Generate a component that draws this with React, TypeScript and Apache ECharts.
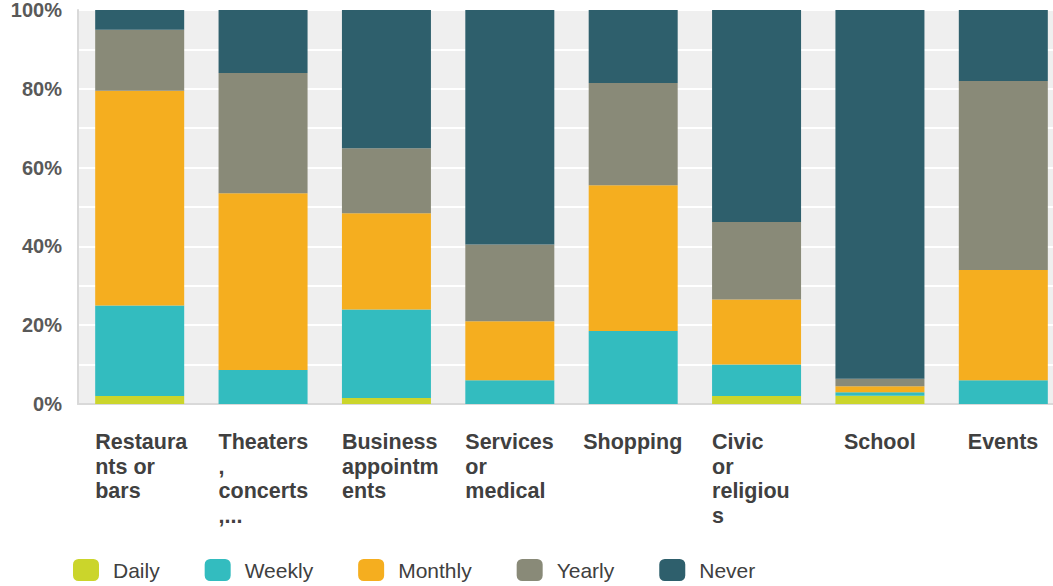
import React, { useEffect, useRef } from "react";
import * as echarts from "echarts";

const categories = [
  "Restaura\nnts or\nbars",
  "Theaters\n,\nconcerts\n,...",
  "Business\nappointm\nents",
  "Services\nor\nmedical",
  "Shopping",
  "Civic\nor\nreligiou\ns",
  "School",
  "Events",
];
const seriesNames = ["Daily", "Weekly", "Monthly", "Yearly", "Never"];
const daily = [2, 0, 1.5, 0, 0, 2, 2.1, 0];
const weekly = [23, 8.6, 22.5, 6, 18.5, 8, 0.9, 6];
const monthly = [54.5, 44.9, 24.4, 15, 37, 16.5, 1.5, 28];
const yearly = [15.5, 30.5, 16.5, 19.5, 26, 19.7, 1.9, 48];
const never = [5, 16, 35.1, 59.5, 18.5, 53.8, 93.6, 18];
const colors = ["#cbd52b", "#33bcbf", "#f5ae1f", "#898a78", "#2e5f6c"];
const yTicks = [0, 20, 40, 60, 80, 100];

export default function App() {
  const ref = useRef<HTMLDivElement>(null);
  useEffect(() => {
    if (!ref.current) return;
    const chart = echarts.init(ref.current, undefined, { renderer: "svg" });
    const values = [daily, weekly, monthly, yearly, never];
    const font = "'Liberation Sans', Arial, sans-serif";
    const labelFont = { fontFamily: font, fontSize: 21.5, fontWeight: "bold", lineHeight: 24.5, color: "#404040" };
    const canvas = document.createElement("canvas");
    const ctx = canvas.getContext("2d");
    const rich: Record<string, any> = {};
    categories.forEach((c, i) => {
      const lines = c.split("\n");
      let w = 89;
      if (lines.length === 1 && ctx) {
        ctx.font = "bold 21.5px 'Liberation Sans', Arial, sans-serif";
        w = Math.ceil(ctx.measureText(lines[0]).width);
      }
      rich["c" + i] = { ...labelFont, width: w, align: "left" };
    });
    chart.setOption({
      animation: false,
      color: colors,
      grid: {
        left: 78,
        right: 5,
        top: 8,
        bottom: 182,
        show: true,
        backgroundColor: "#efefef",
        borderWidth: 0,
      },
      legend: {
        left: 73,
        top: 559,
        padding: 0,
        itemWidth: 26,
        itemHeight: 22,
        itemGap: 45,
        icon: "roundRect",
        data: seriesNames,
        textStyle: {
          fontFamily: font,
          fontSize: 21,
          color: "#404040",
          padding: [0, 0, 0, 9],
        },
      },
      xAxis: {
        type: "category",
        data: categories,
        axisLine: { show: true, lineStyle: { color: "#d9d9d9", width: 2 } },
        axisTick: { show: false },
        splitLine: { show: false },
        axisLabel: {
          interval: 0,
          align: "center",
          margin: 26,
          ...labelFont,
          formatter: (value: string, index: number) =>
            value
              .split("\n")
              .map((l) => `{c${index}|${l}}`)
              .join("\n"),
          rich,
        },
      },
      yAxis: {
        type: "value",
        min: 0,
        max: 100,
        interval: 10,
        axisLine: { show: true, lineStyle: { color: "#d9d9d9", width: 2 } },
        axisTick: { show: false },
        splitLine: { show: true, lineStyle: { color: "#ffffff", width: 2 } },
        axisLabel: {
          margin: 16,
          fontFamily: font,
          fontSize: 20,
          fontWeight: "bold",
          color: "#595959",
          formatter: (v: number) => (yTicks.includes(v) ? v + "%" : ""),
        },
      },
      series: seriesNames.map((name, i) => ({
        name,
        type: "bar",
        stack: "total",
        barWidth: 89,
        data: values[i],
        itemStyle: { color: colors[i] },
      })),
    });
    return () => chart.dispose();
  }, []);
  return (
    <div
      ref={ref}
      style={{ position: "fixed", left: 0, top: 0, width: 1070, height: 586, background: "#fff" }}
    />
  );
}
